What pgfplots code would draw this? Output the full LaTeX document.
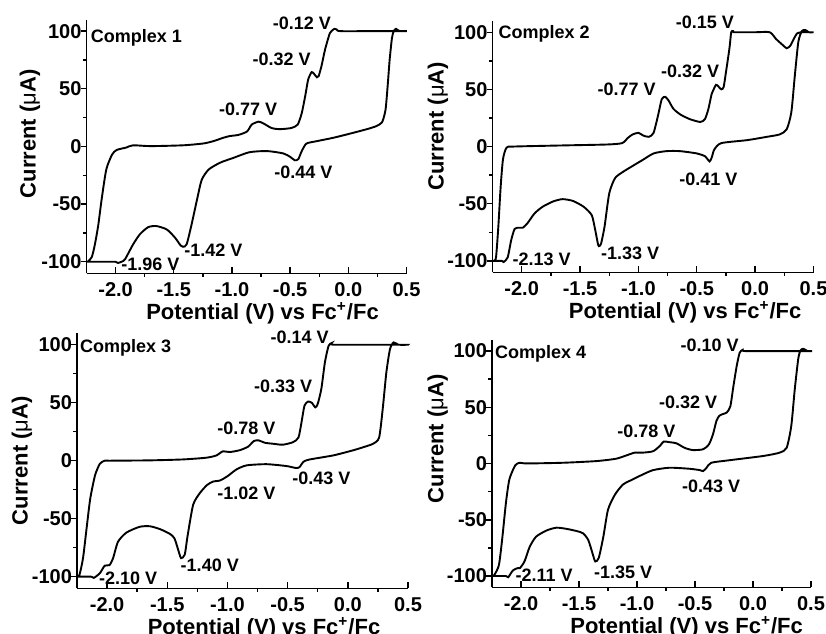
\documentclass[border=0pt]{standalone}
\usepackage{fontspec}
\setmainfont{Liberation Sans}
\usepackage{pgfplots}
\pgfplotsset{compat=1.18}

\tikzset{lbl/.style={font=\fontsize{9}{10}\selectfont\bfseries, inner sep=0pt},
         cvl/.style={black, line width=0.95pt, mark=none, smooth, tension=0.4}}

\pgfplotsset{
  cv/.style={
    scale only axis, anchor=south west,
    xmin=-2.25, xmax=0.5, ymin=-110, ymax=110,
    axis x line*=bottom, axis y line*=left,
    axis line style={line width=0.8pt},
    xtick={-2,-1.5,-1,-0.5,0,0.5},
    xticklabels={-2.0,-1.5,-1.0,-0.5,0.0,0.5},
    ytick={-100,-50,0,50,100},
    yticklabels={-100,-50,0,50,100},
    minor x tick num=1, minor y tick num=1,
    tick align=outside,
    major tick length=3pt, minor tick length=1.8pt,
    every tick/.style={black, line width=0.7pt},
    every major x tick/.append style={yshift=3pt},
    ticklabel style={font=\fontsize{10}{11}\selectfont\bfseries},
    xticklabel style={anchor=base, yshift=-8.5pt},
    yticklabel style={xshift=4pt},
    label style={font=\fontsize{11}{12}\selectfont\bfseries},
    ylabel={Current ({\mdseries μ}A)},
    xlabel={Potential (V) vs Fc\textsuperscript{+}/Fc},
    clip=false,
  }
}

\begin{document}
\begin{tikzpicture}
\path[use as bounding box] (0,0) rectangle (413pt,-316.5pt);

% Complex 1
\begin{axis}[cv, at={(43.25pt,-136.65pt)}, width=160pt, height=126.85pt,
  xlabel style={at={(axis description cs:0.55,0)}, anchor=base, yshift=-23pt},
  ylabel style={at={(axis description cs:-0.177,0.55)}, anchor=center}]
\addplot[cvl] coordinates {
(-2.25,-100) (-2.10,-100) (-2.0,-100) (-1.98,-101) (-1.95,-100) (-1.92,-98) (-1.85,-85)
(-1.79,-76) (-1.72,-70) (-1.65,-69) (-1.56,-72) (-1.49,-79) (-1.44,-86) (-1.42,-87)
(-1.39,-85) (-1.35,-69) (-1.30,-46) (-1.26,-29) (-1.20,-20) (-1.10,-14) (-0.99,-10)
(-0.85,-5) (-0.70,-4) (-0.56,-6) (-0.50,-9) (-0.46,-12) (-0.43,-11) (-0.40,-4)
(-0.36,2.5) (-0.27,4.6) (-0.13,7.5) (0.01,11) (0.16,15) (0.24,17.6) (0.29,21)
(0.32,32) (0.34,55) (0.355,75) (0.375,94) (0.39,100) (0.41,102) (0.44,100) (0.5,100)
(0.2,100) (-0.07,100) (-0.10,101.5) (-0.12,102) (-0.145,100) (-0.16,98) (-0.20,84)
(-0.23,70) (-0.255,61) (-0.27,60) (-0.295,63) (-0.315,64.5) (-0.345,58) (-0.37,44)
(-0.40,29) (-0.435,19) (-0.49,16) (-0.59,15) (-0.66,16) (-0.73,20) (-0.77,21.5)
(-0.83,19) (-0.87,13) (-0.945,10) (-1.02,9) (-1.075,7.5) (-1.16,4.6) (-1.245,2.6)
(-1.42,1) (-1.70,0.3) (-1.85,1) (-1.91,-1) (-1.99,-3) (-2.03,-7) (-2.08,-20)
(-2.12,-46) (-2.15,-69) (-2.18,-86) (-2.205,-96) (-2.24,-100) (-2.25,-100)
};
\node[lbl, anchor=west] at (axis cs:-2.215,94) {Complex 1};
\node[lbl] at (axis cs:-0.40,106.6) {-0.12 V};
\node[lbl] at (axis cs:-0.573,75.4) {-0.32 V};
\node[lbl] at (axis cs:-0.86,32.6) {-0.77 V};
\node[lbl] at (axis cs:-0.387,-22.3) {-0.44 V};
\node[lbl] at (axis cs:-1.16,-90) {-1.42 V};
\node[lbl] at (axis cs:-1.70,-102.4) {-1.96 V};
\end{axis}

% Complex 2
\begin{axis}[cv, at={(246.25pt,-136.15pt)}, width=160.5pt, height=125.75pt,
  xlabel style={at={(axis description cs:0.60,0)}, anchor=base, yshift=-23pt},
  ylabel style={at={(axis description cs:-0.17,0.58)}, anchor=center}]
\addplot[cvl] coordinates {
(-2.25,-100) (-2.17,-100) (-2.155,-101) (-2.12,-97) (-2.09,-82) (-2.06,-72) (-2.02,-71)
(-1.99,-71) (-1.95,-67) (-1.89,-58.5) (-1.82,-52.6) (-1.73,-48) (-1.65,-46) (-1.56,-47.6)
(-1.47,-52.6) (-1.40,-60) (-1.37,-73) (-1.345,-86) (-1.335,-87) (-1.32,-85) (-1.29,-70)
(-1.25,-41) (-1.20,-27.6) (-1.13,-22) (-1.05,-17) (-0.96,-11.5) (-0.87,-6) (-0.76,-4)
(-0.645,-4) (-0.50,-6) (-0.43,-8.5) (-0.39,-13) (-0.37,-9) (-0.35,-2.6) (-0.29,3)
(-0.07,5.6) (0.10,8.5) (0.21,10.6) (0.27,15) (0.31,30) (0.34,62) (0.37,91.5) (0.40,101)
(0.43,102) (0.46,100) (0.5,100)
(0.40,100) (0.36,99) (0.33,94) (0.30,88) (0.27,86) (0.24,88.5) (0.18,94) (0.125,100)
(0.0,100) (-0.18,100) (-0.19,101) (-0.205,100) (-0.22,86) (-0.25,65) (-0.27,52)
(-0.29,50) (-0.315,52.6) (-0.335,54) (-0.36,49) (-0.375,45) (-0.40,33) (-0.43,24)
(-0.47,21.5) (-0.56,24) (-0.64,28) (-0.70,33) (-0.74,40) (-0.77,43.5) (-0.80,41.5)
(-0.83,28) (-0.87,12) (-0.91,8.5) (-0.96,9.7) (-1.00,12) (-1.05,10.6) (-1.09,7.6)
(-1.14,3) (-1.27,1.8) (-1.64,1) (-2.07,0) (-2.13,-1) (-2.16,-11) (-2.18,-35) (-2.20,-70)
(-2.22,-97) (-2.24,-100) (-2.25,-100)
};
\node[lbl, anchor=west] at (axis cs:-2.20,98.8) {Complex 2};
\node[lbl] at (axis cs:-0.43,109) {-0.15 V};
\node[lbl] at (axis cs:-0.557,65.6) {-0.32 V};
\node[lbl] at (axis cs:-1.10,49.7) {-0.77 V};
\node[lbl] at (axis cs:-0.40,-29) {-0.41 V};
\node[lbl] at (axis cs:-1.07,-93) {-1.33 V};
\node[lbl] at (axis cs:-1.83,-99) {-2.13 V};
\end{axis}

% Complex 3
\begin{axis}[cv, at={(38.5pt,-294.15pt)}, width=165.5pt, height=127.6pt,
  xlabel style={at={(axis description cs:0.565,0)}, anchor=base, yshift=-23pt},
  ylabel style={at={(axis description cs:-0.166,0.5)}, anchor=center}]
\addplot[cvl] coordinates {
(-2.25,-100) (-2.13,-100) (-2.11,-101) (-2.06,-97) (-2.02,-90.5) (-1.98,-90) (-1.95,-84)
(-1.91,-70) (-1.84,-62) (-1.73,-57) (-1.645,-56.5) (-1.56,-59) (-1.48,-63) (-1.44,-67)
(-1.40,-80) (-1.385,-84) (-1.355,-81) (-1.33,-64) (-1.285,-38) (-1.23,-28) (-1.17,-21)
(-1.12,-18) (-1.06,-17) (-0.995,-13) (-0.925,-7.5) (-0.84,-4) (-0.675,-3) (-0.51,-4.6)
(-0.43,-6.3) (-0.40,-5.4) (-0.37,-1) (-0.32,1) (-0.12,4.6) (0.045,9) (0.13,11.7)
(0.21,14.6) (0.26,20) (0.29,44.7) (0.32,76) (0.35,96) (0.38,102) (0.42,100) (0.5,100)
(0.2,100) (-0.12,100) (-0.135,101.4) (-0.16,99) (-0.19,85) (-0.22,62) (-0.25,49)
(-0.27,46) (-0.30,50) (-0.33,51) (-0.36,47.5) (-0.385,33) (-0.41,20) (-0.455,16)
(-0.54,13.8) (-0.62,14.6) (-0.69,15.5) (-0.74,17.5) (-0.78,17) (-0.83,12) (-0.90,9)
(-0.98,7.5) (-1.04,8) (-1.09,4.6) (-1.175,2.6) (-1.37,1.1) (-1.645,0.3) (-1.98,0)
(-2.02,0) (-2.06,-2.6) (-2.10,-12.6) (-2.14,-32.7) (-2.17,-58) (-2.20,-84) (-2.23,-98.6)
(-2.25,-100)
};
\node[lbl, anchor=west] at (axis cs:-2.227,97) {Complex 3};
\node[lbl] at (axis cs:-0.40,106.3) {-0.14 V};
\node[lbl] at (axis cs:-0.537,64.2) {-0.33 V};
\node[lbl] at (axis cs:-0.842,28) {-0.78 V};
\node[lbl] at (axis cs:-0.219,-15.5) {-0.43 V};
\node[lbl] at (axis cs:-0.842,-28.4) {-1.02 V};
\node[lbl] at (axis cs:-1.147,-90.5) {-1.40 V};
\node[lbl] at (axis cs:-1.825,-101.4) {-2.10 V};
\end{axis}

% Complex 4
\begin{axis}[cv, at={(246pt,-293.65pt)}, width=159.5pt, height=123.75pt,
  xlabel style={at={(axis description cs:0.61,0)}, anchor=base, yshift=-23pt},
  ylabel style={at={(axis description cs:-0.17,0.6)}, anchor=center}]
\addplot[cvl] coordinates {
(-2.25,-100) (-2.13,-100) (-2.11,-101) (-2.07,-95) (-2.03,-93) (-2.01,-93) (-1.97,-87)
(-1.925,-74) (-1.87,-65) (-1.78,-59.5) (-1.695,-57) (-1.61,-58) (-1.52,-60) (-1.465,-62)
(-1.42,-68) (-1.38,-81) (-1.36,-87) (-1.33,-84) (-1.29,-65) (-1.25,-41) (-1.19,-27.6)
(-1.12,-18.6) (-1.035,-14) (-0.95,-9.7) (-0.86,-5.8) (-0.72,-3.7) (-0.55,-4.6)
(-0.46,-5.8) (-0.43,-6.7) (-0.40,-3.7) (-0.36,0.7) (-0.20,3) (0.086,6.7) (0.23,9.7)
(0.29,14) (0.33,33.5) (0.36,66) (0.39,93) (0.41,100.6) (0.435,102) (0.47,100) (0.5,100)
(0.2,100) (-0.07,100) (-0.09,101) (-0.115,98.5) (-0.14,87) (-0.17,68) (-0.195,51)
(-0.225,45.5) (-0.26,44) (-0.29,42.5) (-0.315,38) (-0.345,26) (-0.38,17) (-0.43,12.7)
(-0.52,12) (-0.59,14) (-0.66,18) (-0.72,19) (-0.77,19.5) (-0.80,16) (-0.86,11)
(-0.95,9.7) (-1.02,9.7) (-1.09,7.3) (-1.18,4.3) (-1.35,2.2) (-1.64,0.7) (-1.95,0.1)
(-2.01,0.7) (-2.05,-1.6) (-2.10,-14) (-2.13,-35) (-2.16,-65) (-2.19,-90) (-2.23,-99)
(-2.25,-100)
};
\node[lbl, anchor=west] at (axis cs:-2.227,97.6) {Complex 4};
\node[lbl] at (axis cs:-0.374,105) {-0.10 V};
\node[lbl] at (axis cs:-0.56,54.4) {-0.32 V};
\node[lbl] at (axis cs:-0.92,29) {-0.78 V};
\node[lbl] at (axis cs:-0.36,-20) {-0.43 V};
\node[lbl] at (axis cs:-1.12,-97) {-1.35 V};
\node[lbl] at (axis cs:-1.80,-99) {-2.11 V};
\end{axis}
\end{tikzpicture}
\end{document}
